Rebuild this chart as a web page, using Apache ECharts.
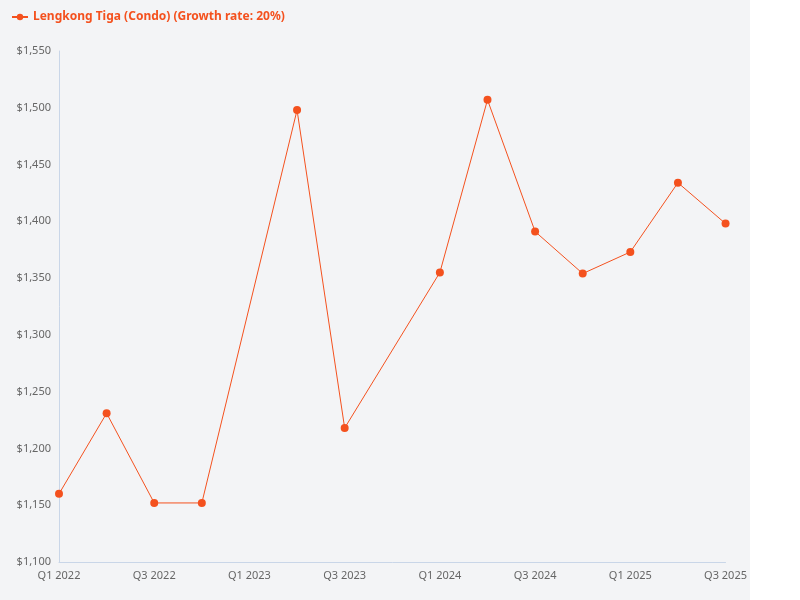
<!DOCTYPE html>
<html>
<head>
<meta charset="utf-8">
<script src="https://cdn.jsdelivr.net/npm/echarts@6/dist/echarts.min.js"></script>
<style>
body { margin: 0; background: #fff; }
#chart { width: 750px; height: 600px; background: #f3f4f6; }
</style>
</head>
<body>
<div id="chart"></div>
<script>
// quarters and prices
var quarters = ["Q1 2022", "Q2 2022", "Q3 2022", "Q4 2022", "Q1 2023", "Q2 2023", "Q3 2023", "Q4 2023",
	"Q1 2024", "Q2 2024", "Q3 2024", "Q4 2024", "Q1 2025", "Q2 2025", "Q3 2025"];
var prices = [1160, 1231, 1152, 1152, null, 1498, 1218, null, 1355, 1507, 1391, 1354, 1373, 1434, 1398];
var seriesName = "Lengkong Tiga (Condo) (Growth rate: 20%)";

var chart = echarts.init(document.getElementById('chart'));
chart.setOption({
	textStyle: { fontFamily: "Noto Sans" },
	legend: {
		left: 6, top: 6,
		itemWidth: 16, itemHeight: 8,
		textStyle: { color: '#f4511e', fontWeight: 'bold', fontSize: 12 }
	},
	grid: { left: 59, right: 15, top: 51, bottom: 38 },
	xAxis: {
		type: 'category',
		data: quarters,
		boundaryGap: false,
		axisLine: { lineStyle: { color: '#c9d6e8' } },
		axisTick: { show: false },
		axisLabel: { color: '#666', fontSize: 11, interval: 1 }
	},
	yAxis: {
		type: 'value',
		min: 1100, max: 1550, interval: 50,
		splitLine: { show: false },
		axisLine: { show: true, lineStyle: { color: '#c9d6e8' } },
		axisLabel: {
			color: '#666', fontSize: 11,
			formatter: function (v) { return '$' + v.toLocaleString('en-US'); }
		}
	},
	series: [{
		name: seriesName,
		type: 'line',
		data: prices,
		connectNulls: true,
		symbol: 'circle',
		symbolSize: 8,
		itemStyle: { color: '#f4511e' },
		lineStyle: { width: 1, color: '#f4511e' }
	}]
});
</script>
</body>
</html>
